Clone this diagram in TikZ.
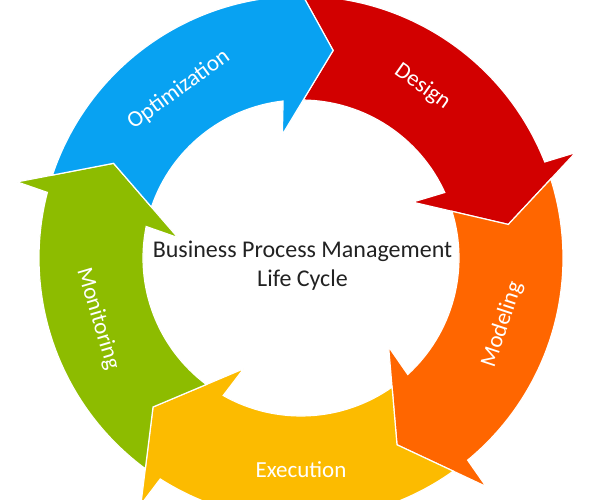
\documentclass[tikz,border=0pt]{standalone}
\usepackage{fontspec}
\setmainfont{Carlito}
\definecolor{cBlue}{RGB}{8,162,242}
\definecolor{cRed}{RGB}{210,0,0}
\definecolor{cOrange}{RGB}{255,102,0}
\definecolor{cYellow}{RGB}{252,187,0}
\definecolor{cGreen}{RGB}{141,188,0}
\definecolor{cText}{RGB}{34,34,34}
\begin{document}
\begin{tikzpicture}[x=1pt,y=1pt,
  seg/.style={fill=#1, draw=white, line width=1.2pt, line join=miter},
  lbl/.style={text=white, font=\fontsize{23}{27}\selectfont, inner sep=0pt},
  ttl/.style={text=cText, font=\fontsize{24}{29}\selectfont, inner sep=0pt, anchor=base}]
\useasboundingbox (0,0) rectangle (600,500);
\clip (0,0) rectangle (600,500);
\begin{scope}[shift={(301,242)}]
\foreach \t/\c in {9.2/cRed, -62.8/cOrange, -134.8/cYellow, 153.2/cGreen, 81.2/cBlue}{
  \fill[seg=\c] ({\t+80.35}:262pt) arc[start angle={\t+80.35}, end angle={\t+12.3}, radius=262pt]
    -- ({\t+11.8}:294pt) -- (\t:210pt) -- ({\t+17.4}:124.8pt) -- ({\t+15.3}:158pt)
    arc[start angle={\t+15.3}, end angle={\t+80}, radius=158pt]
    -- ({\t+72}:210pt) -- cycle;
}
\node[lbl, rotate=-35.3] (design) at (54.7:210pt) {Design};
\node[lbl, rotate=71.7] (modeling) at (-18.3:212pt) {Modeling};
\node[lbl] (execution) at (-90:212pt) {Execution};
\node[lbl, rotate=-73.3] (monitoring) at (-163.3:212pt) {Monitoring};
\node[lbl, rotate=36] (optimization) at (126:208pt) {Optimization};
\node[ttl] (t1) at (1.5,0) {Business Process Management};
\node[ttl] (t2) at (1.5,-29) {Life Cycle};
\end{scope}
\end{tikzpicture}
\end{document}
